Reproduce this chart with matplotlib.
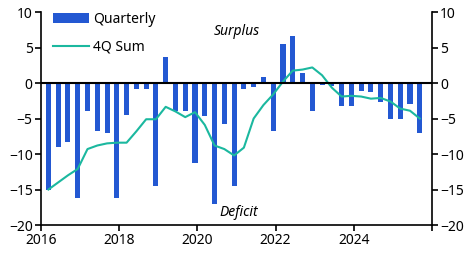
import matplotlib

matplotlib.use("Agg")

import matplotlib.pyplot as plt
import numpy as np

plt.rcParams["font.family"] = ["Noto Sans", "DejaVu Sans"]

# quarterly balance, Q1 2016 .. Q3 2025
quarterly = [
    -15.0, -9.0, -8.3, -16.2, -4.0, -6.8, -7.0, -16.2,
    -4.5, -0.9, -0.9, -14.5, 3.7, -4.0, -4.0, -11.2,
    -4.6, -17.0, -5.7, -14.5, -0.9, -0.6, 0.85, -6.8,
    5.5, 6.6, 1.4, -4.0, -0.25, -0.4, -3.2, -3.3,
    -1.1, -1.3, -2.6, -5.0, -5.0, -2.9, -7.1,
]
four_q_sum = [
    -15.0, -14.0, -13.0, -12.1, -9.3, -8.8, -8.5, -8.4,
    -8.4, -6.8, -5.1, -5.1, -3.35, -4.0, -4.8, -4.1,
    -5.9, -8.8, -9.3, -10.2, -9.1, -5.0, -3.1, -1.6,
    0.2, 1.75, 1.9, 2.2, 1.1, -0.65, -1.9, -1.8,
    -1.9, -2.2, -2.1, -2.6, -3.6, -3.9, -5.0,
]
start_year = 2016
year_ticks = [2016, 2018, 2020, 2022, 2024, 2026]
year_labels = ["2016", "2018", "2020", "2022", "2024", ""]

x = start_year + 0.19 + 0.25 * np.arange(len(quarterly))

fig = plt.figure(figsize=(4.71, 2.57), dpi=100)
ax = fig.add_axes([0.087, 0.1245, 0.83, 0.8285])

bars = ax.bar(x, quarterly, width=0.13, color="#2358d2", label="Quarterly", zorder=2)
line, = ax.plot(x, four_q_sum, color="#1bb89f", linewidth=1.5, label="4Q Sum", zorder=3)
ax.axhline(0, color="black", linewidth=1.5, zorder=4)

ax.set_xlim(2016, 2026)
ax.set_ylim(-20, 10)
ax.set_xticks(year_ticks)
ax.set_xticklabels(year_labels)
ax.set_yticks(range(-20, 11, 5))
ax.tick_params(axis="both", labelsize=10, length=4, width=1.2, direction="out", pad=2)
ax.tick_params(axis="y", right=True, labelright=True)
ax.spines["top"].set_visible(False)
for side in ["left", "right", "bottom"]:
    ax.spines[side].set_linewidth(1.2)

ax.text(2021.0, 7.3, "Surplus", style="italic", fontsize=10, ha="center", va="center")
ax.text(2021.05, -18.3, "Deficit", style="italic", fontsize=10, ha="center", va="center")

ax.legend([bars, line], ["Quarterly", "4Q Sum"], loc="upper left", bbox_to_anchor=(0.01, 1.04),
          frameon=False, fontsize=10, handlelength=2.6, handletextpad=0.3,
          labelspacing=0.9, borderaxespad=0.2)

fig.savefig("out.png", dpi=100)
plt.close(fig)
